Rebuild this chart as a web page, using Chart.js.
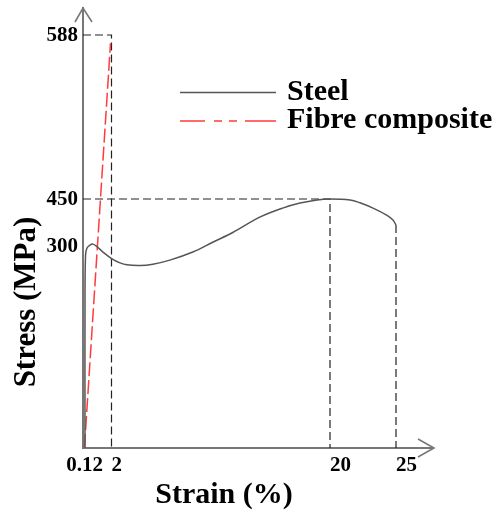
<!DOCTYPE html>
<html>
<head>
<meta charset="utf-8">
<script src="https://cdn.jsdelivr.net/npm/chart.js@4.4.0/dist/chart.umd.min.js"></script>
<style>
html,body{margin:0;padding:0;background:#fff;}
#wrap{width:501px;height:512px;}
</style>
</head>
<body>
<div id="wrap"><canvas id="c" width="501" height="512"></canvas></div>
<script>
// ---- data ----
const xTickValues = [0.12, 2, 20, 25];
const xTickLabels = ['0.12', '2', '20', '25'];
const yTickValues = [300, 450, 588];
const yTickLabels = ['300', '450', '588'];
const seriesNames = ['Steel', 'Fibre composite'];
const steelStrain = [0.14, 0.14, 0.18, 0.28, 0.49, 0.70, 0.98, 1.40, 2.04, 2.70, 3.27, 4.34, 5.41, 6.81, 8.70, 10.34, 11.99, 14.21, 16.10, 17.53, 18.93, 20.0, 21.52, 22.27, 23.26, 24.32, 24.77, 25.0];
const steelStress = [0, 220, 287, 297, 303, 306, 299, 291, 281, 275, 272, 271, 273, 279, 291, 312, 343, 392, 421, 437, 447, 450, 447, 438, 421, 398, 383, 367];
const fibreStrain = [0.10, 1.93];
const fibreStress = [0, 581];
// reference (guide) lines
const guide588 = {x: [0, 2, 2], y: [588, 588, 0]};
const guide450 = {x: [0, 20, 20], y: [450, 450, 0]};
const guide25 = {x: [25, 25], y: [367, 0]};

// ---- piecewise axis mapping (scale layout) ----
const BREAKS = {
  x: [[0, 0], [2, 28.5 / 350], [20, 247 / 350], [25, 313 / 350], [28, 1]],
  y: [[0, 0], [300, 202 / 440], [450, 249 / 440], [588, 413 / 440], [620, 1]]
};
class PiecewiseScale extends Chart.LinearScale {
  getPixelForValue(v) {
    const b = BREAKS[this.id];
    let f;
    if (v <= b[0][0]) f = b[0][1];
    else if (v >= b[b.length - 1][0]) f = b[b.length - 1][1];
    else {
      for (let i = 1; i < b.length; i++) {
        if (v <= b[i][0]) {
          const t = (v - b[i - 1][0]) / (b[i][0] - b[i - 1][0]);
          f = b[i - 1][1] + t * (b[i][1] - b[i - 1][1]);
          break;
        }
      }
    }
    return this.getPixelForDecimal(f);
  }
  getValueForPixel(p) {
    const b = BREAKS[this.id];
    const f = this.getDecimalForPixel(p);
    for (let i = 1; i < b.length; i++) {
      if (f <= b[i][1]) {
        const t = (f - b[i - 1][1]) / (b[i][1] - b[i - 1][1]);
        return b[i - 1][0] + t * (b[i][0] - b[i - 1][0]);
      }
    }
    return b[b.length - 1][0];
  }
}
PiecewiseScale.id = 'piecewise';
PiecewiseScale.defaults = Chart.LinearScale.defaults;
Chart.register(PiecewiseScale);

const zip = (xs, ys) => xs.map((x, i) => ({x: x, y: ys[i]}));
const FONT = '"Liberation Serif", "Times New Roman", serif';
const STEEL_COLOR = '#555555';
const FIBRE_COLOR = '#ff3b3b';

const decorPlugin = {
  id: 'decor',
  afterDraw(chart) {
    const ctx = chart.ctx;
    const a = chart.chartArea;
    const xs = chart.scales.x, ys = chart.scales.y;
    ctx.save();
    // arrows
    ctx.strokeStyle = '#777777';
    ctx.lineWidth = 1.6;
    ctx.beginPath();
    ctx.moveTo(a.left - 8, a.top + 14); ctx.lineTo(a.left, a.top); ctx.lineTo(a.left + 9, a.top + 14);
    ctx.moveTo(a.right - 15, a.bottom - 9); ctx.lineTo(a.right + 1, a.bottom); ctx.lineTo(a.right - 15, a.bottom + 9);
    ctx.stroke();
    // tick labels
    ctx.fillStyle = '#000';
    ctx.font = 'bold 21px ' + FONT;
    ctx.textBaseline = 'alphabetic';
    xs.ticks.forEach((t, i) => {
      const px = xs.getPixelForValue(t.value);
      ctx.textAlign = i === 0 ? 'center' : 'left';
      ctx.fillText(xTickLabels[i], px, a.bottom + 23);
    });
    ctx.textAlign = 'right';
    ctx.textBaseline = 'middle';
    ys.ticks.forEach((t, i) => {
      const py = ys.getPixelForValue(t.value);
      ctx.fillText(yTickLabels[i], a.left - 5, py + 1);
    });
    // axis titles
    ctx.textAlign = 'center';
    ctx.textBaseline = 'alphabetic';
    ctx.font = 'bold 30px ' + FONT;
    ctx.fillText('Strain (%)', 224, 503);
    ctx.save();
    ctx.font = 'bold 31px ' + FONT;
    ctx.translate(35, 302);
    ctx.rotate(-Math.PI / 2);
    ctx.fillText('Stress (MPa)', 0, 0);
    ctx.restore();
    // legend
    const ds = chart.data.datasets;
    const lx = 180, lw = 96;
    const rows = [{y: 92.5, base: 100}, {y: 121, base: 128}];
    [0, 1].forEach(i => {
      ctx.strokeStyle = ds[i].borderColor;
      ctx.lineWidth = 1.6;
      ctx.setLineDash(i === 1 ? [25, 9, 8, 7, 8, 8, 31, 100] : []);
      ctx.beginPath();
      ctx.moveTo(lx, rows[i].y); ctx.lineTo(lx + lw, rows[i].y);
      ctx.stroke();
      ctx.setLineDash([]);
      ctx.fillStyle = '#000';
      ctx.font = 'bold 30px ' + FONT;
      ctx.textAlign = 'left';
      ctx.fillText(ds[i].label, 287, rows[i].base);
    });
    ctx.restore();
  }
};

const guideStyle = {borderColor: '#222222', borderWidth: 1.2, borderDash: [8, 4], pointRadius: 0, fill: false, tension: 0};

new Chart(document.getElementById('c'), {
  type: 'line',
  data: {
    datasets: [
      {label: seriesNames[0], data: zip(steelStrain, steelStress), borderColor: STEEL_COLOR, borderWidth: 1.5, pointRadius: 0, tension: 0.35, fill: false},
      {label: seriesNames[1], data: zip(fibreStrain, fibreStress), borderColor: FIBRE_COLOR, borderWidth: 1.5, borderDash: [14, 4], pointRadius: 0, fill: false},
      Object.assign({label: 'g588', data: zip(guide588.x, guide588.y)}, guideStyle),
      Object.assign({label: 'g450', data: zip(guide450.x, guide450.y)}, guideStyle),
      Object.assign({label: 'g25', data: zip(guide25.x, guide25.y)}, guideStyle)
    ]
  },
  options: {
    responsive: false,
    animation: false,
    layout: {padding: {left: 83, right: 68, top: 8, bottom: 64}},
    plugins: {legend: {display: false}, tooltip: {enabled: false}},
    scales: {
      x: {
        type: 'piecewise', min: 0, max: 28,
        grid: {display: false, drawTicks: false},
        border: {display: true, color: '#777777', width: 2},
        ticks: {display: false},
        afterBuildTicks: (s) => { s.ticks = xTickValues.map(v => ({value: v})); }
      },
      y: {
        type: 'piecewise', min: 0, max: 620,
        grid: {display: false, drawTicks: false},
        border: {display: true, color: '#777777', width: 2},
        ticks: {display: false},
        afterBuildTicks: (s) => { s.ticks = yTickValues.map(v => ({value: v})); }
      }
    }
  },
  plugins: [decorPlugin]
});
</script>
</body>
</html>
